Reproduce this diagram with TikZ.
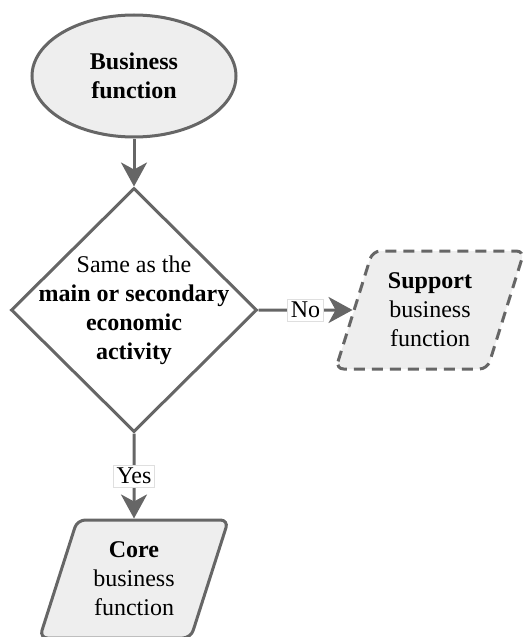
\documentclass[tikz,border=0pt]{standalone}
\usepackage{fontspec}
\setmainfont{Liberation Serif}
\usepackage{xcolor}
\usetikzlibrary{shapes.geometric, arrows.meta, positioning}

\definecolor{lineg}{HTML}{666666}
\definecolor{boxg}{HTML}{EEEEEE}

\begin{document}
\begin{tikzpicture}[node distance=2cm, on grid,
        every node/.style={font=\rmfamily\fontsize{12}{14.5}\selectfont, align=center},
        start/.style={ellipse, draw=lineg, line width=1.5pt, fill=boxg, minimum width=102pt, minimum height=61pt, inner sep=0pt},
        question/.style={diamond, draw=lineg, line width=1.5pt, fill=white, minimum width=123pt, minimum height=122pt, inner sep=0pt},
        outcome/.style={trapezium, trapezium left angle=70, trapezium right angle=110, trapezium stretches=true,
                        draw=lineg, line width=1.5pt, fill=boxg, rounded corners=4pt,
                        minimum width=95pt, minimum height=59pt, inner sep=0pt},
        answer/.style={fill=white, draw=gray!25, line width=0.4pt, inner sep=1.5pt, text=black},
        flow/.style={draw=lineg, fill=lineg, line width=1.5pt, -{Stealth[length=12pt, width=13pt, inset=3.5pt]}}]
        \useasboundingbox (-67pt,38pt) rectangle (196pt,-280.5pt);

        \node[start] (func) at (0,0) {\textbf{Business}\\\textbf{function}};
        \node[question] (same) [below=117pt of func,
                label={center:{Same as the\\\textbf{main or secondary}\\\textbf{economic}\\\textbf{activity}}}] {};
        \node[outcome] (supp) [right=148pt of same, dashed, dash pattern=on 5.5pt off 3.5pt] {\textbf{Support}\\business\\function};
        \node[outcome] (core) [below=134.5pt of same] {\textbf{Core}\\business\\function};
        %\node[outcome] (none) [right=of core] {};

        \path[flow]
        (func) edge (same)
        (same) edge node[answer] {No} (supp)
        (same) edge node[answer] {Yes} (core);

    \end{tikzpicture}
\end{document}
